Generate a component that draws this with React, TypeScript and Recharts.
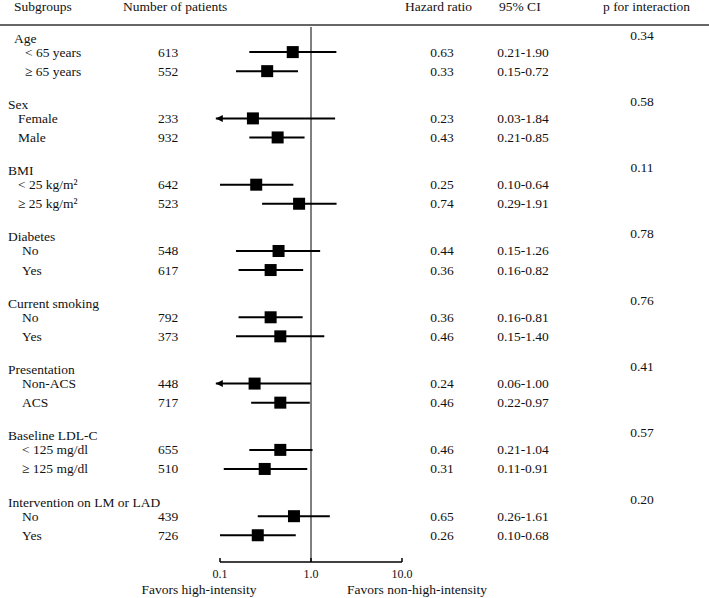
import { ScatterChart, Scatter, XAxis, YAxis, ReferenceLine, ReferenceDot } from 'recharts'

const groups = ['Age', 'Sex', 'BMI', 'Diabetes', 'Current smoking', 'Presentation', 'Baseline LDL-C', 'Intervention on LM or LAD']
const subgroups = [
  ['< 65 years', '≥ 65 years'],
  ['Female', 'Male'],
  ['< 25 kg/m²', '≥ 25 kg/m²'],
  ['No', 'Yes'],
  ['No', 'Yes'],
  ['Non-ACS', 'ACS'],
  ['< 125 mg/dl', '≥ 125 mg/dl'],
  ['No', 'Yes'],
]
const patients = [[613, 552], [233, 932], [642, 523], [548, 617], [792, 373], [448, 717], [655, 510], [439, 726]]
const hazardRatio = [[0.63, 0.33], [0.23, 0.43], [0.25, 0.74], [0.44, 0.36], [0.36, 0.46], [0.24, 0.46], [0.46, 0.31], [0.65, 0.26]]
const ciLow = [[0.21, 0.15], [0.03, 0.21], [0.10, 0.29], [0.15, 0.16], [0.16, 0.15], [0.06, 0.22], [0.21, 0.11], [0.26, 0.10]]
const ciHigh = [[1.90, 0.72], [1.84, 0.85], [0.64, 1.91], [1.26, 0.82], [0.81, 1.40], [1.00, 0.97], [1.04, 0.91], [1.61, 0.68]]
const pInteraction = ['0.34', '0.58', '0.11', '0.78', '0.76', '0.41', '0.57', '0.20']
const xTicks = [0.1, 1, 10]

// layout only
const FONT = "'Liberation Serif', 'Times New Roman', serif"
const FS = 13.5
const groupIndent = [14, 8, 8, 8, 8, 8, 8, 8]
const itemIndent = [25, 18, 18, 22, 22, 22, 22, 22]
const AXIS_MIN = 0.09 // where clipped CIs end in an arrow

type Row = {
  pos: number
  group: number
  isGroup: boolean
  label: string
  n?: number
  hr?: number
  lo?: number
  hi?: number
}

const rows: Row[] = groups.flatMap((g, i) => [
  { pos: i * 4, group: i, isGroup: true, label: g },
  ...subgroups[i].map((s, j) => ({
    pos: i * 4 + (j === 0 ? 0.85 : 2),
    group: i,
    isGroup: false,
    label: s,
    n: patients[i][j],
    hr: hazardRatio[i][j],
    lo: ciLow[i][j],
    hi: ciHigh[i][j],
  })),
])
const items = rows.filter((r) => !r.isGroup)

const fmt = (v: number) => v.toFixed(2)
const txt = { fontFamily: FONT, fontSize: FS, fill: '#111', dominantBaseline: 'central' as const }

// row texts, placed on the chart's y scale
const rowText = (row: Row) => (props: any) => {
  const y = props.cy
  if (row.isGroup) {
    return (
      <g>
        <text x={groupIndent[row.group]} y={y} {...txt}>{row.label}</text>
        <text x={642} y={y - 3} textAnchor="middle" {...txt}>{pInteraction[row.group]}</text>
      </g>
    )
  }
  return (
    <g>
      <text x={itemIndent[row.group]} y={y} {...txt}>{row.label}</text>
      <text x={168} y={y} textAnchor="middle" {...txt}>{row.n}</text>
      <text x={442} y={y} textAnchor="middle" {...txt}>{fmt(row.hr!)}</text>
      <text x={523} y={y} textAnchor="middle" {...txt}>{`${fmt(row.lo!)}-${fmt(row.hi!)}`}</text>
    </g>
  )
}

function AxisTick({ x, y, payload }: any) {
  return (
    <g>
      <line x1={x} x2={x} y1={y} y2={y - 4} stroke="#000" strokeWidth={1.5} />
      <text x={x} y={y + 12} textAnchor="middle" dominantBaseline="central" fontFamily={FONT} fontSize={12} fill="#111">
        {Number(payload.value).toFixed(1)}
      </text>
    </g>
  )
}

const ciShape = (arrow: boolean) => (props: any) => {
  const { x1, y1, x2, y2 } = props
  return (
    <g>
      <line x1={x1} y1={y1} x2={x2} y2={y2} stroke="#000" strokeWidth={2} />
      {arrow && <path d={`M${x1},${y1} l7,-3.5 l0,7 z`} fill="#000" />}
    </g>
  )
}

const Square = (props: any) => {
  const { cx, cy } = props
  return <rect x={cx - 6} y={cy - 6} width={12} height={12} fill="#000" />
}

export default function App() {
  return (
    <div style={{ position: 'absolute', left: 0, top: 0, width: 709, height: 598, background: '#fff' }}>
      <ScatterChart width={709} height={598} margin={{ top: 27, right: 307, bottom: 0, left: 220 }}>
        <XAxis
          type="number"
          dataKey="hr"
          scale="log"
          domain={[0.1, 10]}
          allowDataOverflow
          ticks={xTicks}
          interval={0}
          height={36}
          axisLine={{ stroke: '#000', strokeWidth: 1.5 }}
          tickLine={false}
          tickSize={0}
          tickMargin={0}
          tick={<AxisTick />}
        />
        <YAxis type="number" dataKey="pos" domain={[-0.6637, 31.614]} allowDataOverflow reversed width={0} hide />
        <ReferenceLine x={1} stroke="#000" strokeWidth={1} ifOverflow="visible" />
        {rows.map((r) => (
          <ReferenceDot key={`t${r.pos}`} x={1} y={r.pos} ifOverflow="visible" shape={rowText(r)} />
        ))}
        {items.map((r) => (
          <ReferenceLine
            key={r.pos}
            ifOverflow="visible"
            segment={[
              { x: Math.max(r.lo!, AXIS_MIN), y: r.pos },
              { x: r.hi!, y: r.pos },
            ]}
            shape={ciShape(r.lo! < 0.1)}
          />
        ))}
        <Scatter data={items} shape={<Square />} isAnimationActive={false} />
      </ScatterChart>
      <svg width={709} height={598} style={{ position: 'absolute', left: 0, top: 0, pointerEvents: 'none' }}>
        <g fontFamily={FONT} fontSize={FS} fill="#111">
          <text x={14} y={11}>Subgroups</text>
          <text x={123} y={11}>Number of patients</text>
          <text x={405} y={11}>Hazard ratio</text>
          <text x={499} y={11}>95% CI</text>
          <text x={603} y={11}>p for interaction</text>
          <text x={199} y={594} textAnchor="middle">Favors high-intensity</text>
          <text x={417} y={594} textAnchor="middle">Favors non-high-intensity</text>
        </g>
        <line x1={0} x2={709} y1={25} y2={25} stroke="#333" strokeWidth={1.5} />
      </svg>
    </div>
  )
}
